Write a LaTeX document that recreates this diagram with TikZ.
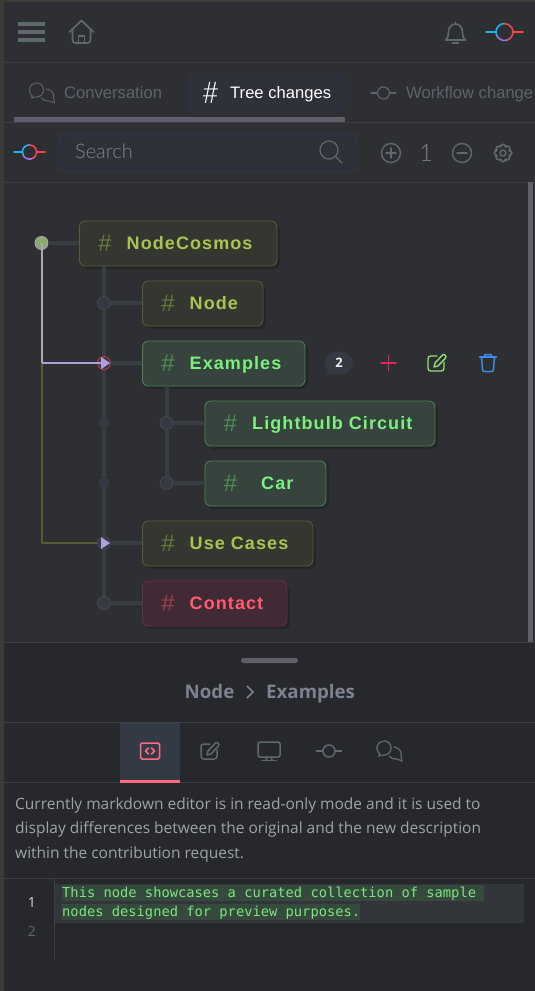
\documentclass[tikz,border=0pt]{standalone}
\usepackage{fontspec}
\setmainfont{Liberation Sans}
\newfontfamily\treefamily[LetterSpace=6]{Liberation Sans}
\newfontfamily\descfamily{Open Sans}
\newfontfamily\searchfamily{Lato Light}
\newfontfamily\monofamily{DejaVu Sans Mono}
\usetikzlibrary{arrows.meta,shadows}
\definecolor{panelTop}{HTML}{2E2F33}
\definecolor{panelLow}{HTML}{27282C}
\definecolor{edgeGray}{HTML}{3B3B38}
\definecolor{lineGray}{HTML}{3C3E44}
\definecolor{iconGray}{HTML}{5E696F}
\definecolor{tabGray}{HTML}{5C636C}
\definecolor{branchGray}{HTML}{383C43}
\definecolor{dotFill}{HTML}{343943}
\definecolor{dotLine}{HTML}{464A53}
\definecolor{oliveFill}{HTML}{33372F}
\definecolor{oliveLine}{HTML}{565F34}
\definecolor{oliveText}{HTML}{A9C452}
\definecolor{oliveHash}{HTML}{68783A}
\definecolor{greenFill}{HTML}{36443D}
\definecolor{greenLine}{HTML}{4E8457}
\definecolor{greenText}{HTML}{7BF07D}
\definecolor{greenHash}{HTML}{4D8C55}
\definecolor{redFill}{HTML}{412A35}
\definecolor{redLine}{HTML}{6B2E3E}
\definecolor{redText}{HTML}{FF5C70}
\definecolor{redHash}{HTML}{98404F}
\definecolor{flowPurple}{HTML}{B09FDC}
\definecolor{flowWhite}{HTML}{ABA9B8}
\definecolor{flowOlive}{HTML}{565C30}
\definecolor{logoBlue}{HTML}{1FB2F0}
\definecolor{logoRed}{HTML}{F0454F}
\definecolor{logoPurple}{HTML}{A06FD8}
\definecolor{descColor}{HTML}{9CA3AA}
\definecolor{monoGreen}{HTML}{7CE67E}
\definecolor{tabFill}{HTML}{2E313A}
\definecolor{barGray}{HTML}{5F5F69}
\definecolor{searchFill}{HTML}{2E313A}
\definecolor{searchGray}{HTML}{7F858C}
\definecolor{rootGreen}{HTML}{8BAA6C}
\definecolor{plusRed}{HTML}{E8265E}
\definecolor{editGreen}{HTML}{8FE26F}
\definecolor{trashBlue}{HTML}{3B8EE8}
\definecolor{crumbGray}{HTML}{7B8290}
\definecolor{activeTab}{HTML}{333A45}
\definecolor{tabRed}{HTML}{FF6B81}
\definecolor{lineBand}{HTML}{32363A}
\definecolor{diffBand}{HTML}{354A3C}
\newcommand{\hashmark}[2]{\textcolor{#1}{\raisebox{-1.5pt}{\fontsize{24}{20}\selectfont\mdseries\#}}\hspace{15pt}#2}
\newcommand{\placeicon}[3][]{\begin{scope}[shift={#2}, icon, #1]\pic {#3};\end{scope}}
\tikzset{
    treebox/.style={rectangle, rounded corners=6pt, line width=0.8pt, anchor=west, minimum height=45pt, inner xsep=19pt, inner ysep=0pt, align=left, text height=13pt, text depth=1pt, font=\treefamily\bfseries\fontsize{18}{20}\selectfont, drop shadow={shadow xshift=3pt, shadow yshift=-3pt, fill=black, opacity=0.18}},
    olivebox/.style={treebox, draw=oliveLine, fill=oliveFill, text=oliveText},
    greenbox/.style={treebox, draw=greenLine, fill=greenFill, text=greenText},
    redbox/.style={treebox, draw=redLine, fill=redFill, text=redText},
    treedot/.style={circle, draw=dotLine, fill=dotFill, line width=0.8pt, minimum size=13pt, inner sep=0pt},
    smalldot/.style={circle, fill=dotFill, minimum size=11pt, inner sep=0pt},
    branch/.style={draw=branchGray, line width=4pt},
    flow/.style={line width=2pt},
    flowtip/.style={-{Triangle[length=9pt,width=12pt]}},
    icon/.style={x=1pt, y=1pt, line width=1.3pt, line cap=round, line join=round},
    tabtext/.style={anchor=base west, inner sep=0pt, text=tabGray, font=\fontsize{16.6}{18}\selectfont},
    desctext/.style={anchor=west, inner sep=0pt, text=descColor, font=\descfamily\fontsize{15.5}{18}\selectfont},
    crumbtext/.style={anchor=base west, inner sep=0pt, text=crumbGray, font=\descfamily\bfseries\fontsize{18.7}{20}\selectfont},
    monotext/.style={anchor=west, inner sep=0pt, text=monoGreen, font=\monofamily\fontsize{13.75}{16}\selectfont},
    pics/commitcolor/.style={code={
        \draw[line width=1.6pt, color=logoBlue] (-18.5,0) -- (-8.5,0);
        \draw[line width=1.6pt, color=logoRed] (8.5,0) -- (18.5,0);
        \draw[line width=1.6pt, color=logoBlue] (0,8.5) arc[start angle=90, end angle=215, radius=8.5];
        \draw[line width=1.6pt, color=logoPurple] (215:8.5) arc[start angle=215, end angle=300, radius=8.5];
        \draw[line width=1.6pt, color=logoRed] (300:8.5) arc[start angle=300, end angle=450, radius=8.5];
    }},
    pics/commitgray/.style={code={
        \draw (-12.5,0) -- (-6,0);
        \draw (6,0) -- (12.5,0);
        \draw (0,0) circle[radius=6];
    }},
    pics/bubbles/.style={code={
        \draw (2,3) .. controls (2,8) and (-2,10) .. (-4,10) .. controls (-9,10) and (-12,7) .. (-12,3) .. controls (-12,0) and (-11,-2) .. (-9,-3) -- (-10.5,-5) -- (-5,-4) .. controls (-1,-4) and (2,-1) .. (2,3);
        \draw (5,4) .. controls (10,3) and (13,0) .. (12,-4) -- (13,-10) -- (8,-8) .. controls (4,-8) and (1,-7) .. (0,-5);
    }},
    pics/pencilbox/.style={code={
        \draw (0,7) -- (-6,7) .. controls (-8,7) and (-9,6) .. (-9,4) -- (-9,-5) .. controls (-9,-7) and (-8,-8) .. (-6,-8) -- (4,-8) .. controls (6,-8) and (7,-7) .. (7,-5) -- (7,1);
        \draw (-3,-4) -- (-2,0) -- (5.5,8) .. controls (7,9.5) and (10,7) .. (8.5,5) -- (1,-3) -- cycle;
    }},
    pics/trashcan/.style={code={
        \draw (-8.5,6) -- (8.5,6);
        \draw (-3.5,6) -- (-3,8.5) -- (3,8.5) -- (3.5,6);
        \draw (-6.5,6) -- (-5.5,-6) .. controls (-5.5,-8) and (-4.5,-8.5) .. (-3.5,-8.5) -- (3.5,-8.5) .. controls (4.5,-8.5) and (5.5,-8) .. (5.5,-6) -- (6.5,6);
    }},
    pics/home/.style={code={
        \draw (-12,0) -- (0,11.5) -- (12,0);
        \draw (-9,3) -- (-9,-8) .. controls (-9,-10) and (-8,-11) .. (-6,-11) -- (6,-11) .. controls (8,-11) and (9,-10) .. (9,-8) -- (9,3);
        \draw (-3,-11) -- (-3,-4) -- (3,-4) -- (3,-11);
    }},
    pics/bell/.style={code={
        \draw (-10,-7) .. controls (-7,-4) and (-7,-2) .. (-7,1) .. controls (-7,6) and (-4,9) .. (0,9) .. controls (4,9) and (7,6) .. (7,1) .. controls (7,-2) and (7,-4) .. (10,-7) -- cycle;
        \draw (0,9) -- (0,11);
        \draw (-3,-10) -- (3,-10);
    }},
    pics/lens/.style={code={
        \draw (-2,2) circle[radius=9];
        \draw (4.5,-4.5) -- (11,-11);
    }},
    pics/plusring/.style={code={
        \draw (0,0) circle[radius=9.5];
        \draw (-5,0) -- (5,0);
        \draw (0,-5) -- (0,5);
    }},
    pics/plainplus/.style={code={
        \draw (-7.5,0) -- (7.5,0);
        \draw (0,-7.5) -- (0,7.5);
    }},
    pics/minusring/.style={code={
        \draw (0,0) circle[radius=9.5];
        \draw (-5,0) -- (5,0);
    }},
    pics/cogwheel/.style={code={
        \draw (0,0) circle[radius=3];
        \draw[rounded corners=1.5pt] (-12:9) \foreach \a in {0,45,...,315} {-- (\a-12:9) -- (\a+12:9) -- (\a+15:6.8) -- (\a+30:6.8)} -- cycle;
    }},
    pics/codebox/.style={code={
        \draw[rounded corners=1.5pt] (-9.5,-8) rectangle (9.5,8);
        \draw[line width=1.5pt] (-1.5,3) -- (-4.5,0) -- (-1.5,-3);
        \draw[line width=1.5pt] (1.5,3) -- (4.5,0) -- (1.5,-3);
    }},
    pics/monitor/.style={code={
        \draw[rounded corners=2pt] (-11,-6) rectangle (11,9);
        \draw (-2,-6) -- (-3,-9);
        \draw (2,-6) -- (3,-9);
        \draw (-7,-9.5) -- (7,-9.5);
    }}
}
\begin{document}
\begin{tikzpicture}[x=1pt, y=-1pt]
    \useasboundingbox (0,0) rectangle (535,991);
    \fill[edgeGray] (0,0) rectangle (535,991);
    \fill[panelTop] (4,2) rectangle (535,642);
    \fill[panelLow] (4,642) rectangle (535,991);
    \draw[lineGray] (4,62.5) -- (535,62.5);
    \draw[lineGray] (4,122.5) -- (535,122.5);
    \draw[lineGray] (4,182.5) -- (535,182.5);
    \draw[lineGray] (4,642.5) -- (535,642.5);
    \draw[lineGray] (4,722.5) -- (535,722.5);
    \draw[lineGray] (4,782.5) -- (535,782.5);
    \draw[lineGray] (4,878.5) -- (535,878.5);

    % top bar
    \foreach \y in {24,32,40} {
        \draw[iconGray, line width=3.4pt] (18,\y) -- (45,\y);
    }
    \placeicon[color=iconGray, line width=1.7pt]{(81.5,32)}{home}
    \placeicon[color=iconGray, line width=1.6pt]{(455.5,33)}{bell}
    \placeicon{(504.5,32)}{commitcolor}

    % tabs
    \fill[tabFill, rounded corners=6pt] (187,73) rectangle (346,113);
    \fill[barGray] (14,117) rectangle (345,122);
    \placeicon[color=tabGray, line width=1pt]{(41.5,93)}{bubbles}
    \node[tabtext] (tabconv) at (64,98.5) {Conversation};
    \node[anchor=center, inner sep=0pt, text=white, font=\searchfamily\fontsize{30}{30}\selectfont] (tabhash) at (210.5,93) {\#};
    \node[tabtext, text=white] (tabtree) at (230,98.5) {Tree changes};
    \placeicon[color=tabGray, line width=1.2pt]{(383.5,93)}{commitgray}
    \node[tabtext] (tabflow) at (406,98.5) {Workflow change};

    % search row
    \placeicon[x=0.84pt, y=0.84pt]{(29.5,152)}{commitcolor}
    \fill[searchFill, draw=lineGray, rounded corners=5pt] (58,133.5) rectangle (358,172.5);
    \node[anchor=west, inner sep=0pt, text=searchGray, font=\searchfamily\fontsize{20}{22}\selectfont] (searchtext) at (75,151.5) {Search};
    \placeicon[color=iconGray, line width=1.2pt]{(331,152)}{lens}
    \placeicon[color=iconGray, line width=1.4pt]{(391,153)}{plusring}
    \node[inner sep=0pt, text=iconGray!85!white, font=\searchfamily\fontsize{24}{24}\selectfont] (zoomlevel) at (426,152.5) {1};
    \placeicon[color=iconGray, line width=1.4pt]{(462,153)}{minusring}
    \placeicon[color=iconGray, line width=1.4pt]{(503,153)}{cogwheel}

    % tree
    \fill[barGray] (528,182) rectangle (533,642);
    \node[olivebox, text width=159.5pt] (cosmos) at (79,243.5) {\hashmark{oliveHash}{NodeCosmos}};
    \node[olivebox, text width=82.5pt] (nodebox) at (142,303.5) {\hashmark{oliveHash}{Node}};
    \node[greenbox, text width=124.5pt] (examples) at (142,363.5) {\hashmark{greenHash}{Examples}};
    \node[greenbox, text width=192pt] (lightbulb) at (204.5,423.5) {\hashmark{greenHash}{Lightbulb Circuit}};
    \node[greenbox, text width=83pt] (car) at (204.5,483.5) {\hashmark{greenHash}{\hspace{9pt}Car}};
    \node[olivebox, text width=132.5pt] (usecases) at (142,543.5) {\hashmark{oliveHash}{Use Cases}};
    \node[redbox, text width=106.5pt] (contact) at (142,603.5) {\hashmark{redHash}{Contact}};

    \node[circle, draw=flowWhite!80!gray, fill=rootGreen, line width=1pt, minimum size=13pt, inner sep=0pt] (root) at (41.5,243) {};
    \node[treedot] (dotnode) at (104,303) {};
    \node[treedot, draw=logoRed!85!black] (dotexamples) at (104,363) {};
    \node[smalldot] (dotgap1) at (104,423) {};
    \node[smalldot] (dotgap2) at (104,483) {};
    \node[treedot] (dotcases) at (104,543) {};
    \node[treedot] (dotcontact) at (104,603) {};
    \node[treedot] (dotlight) at (166.5,423) {};
    \node[treedot] (dotcar) at (166.5,483) {};
    \coordinate (bendfirst) at (41.5,363);
    \coordinate (bendcases) at (41.5,543);

    \draw[branch] (root) -- (cosmos);
    \draw[branch] (dotnode |- cosmos.south) -- (dotnode) -- (dotexamples) -- (dotgap1) -- (dotgap2) -- (dotcases) -- (dotcontact);
    \draw[branch] (dotnode) -- (nodebox);
    \draw[branch] (dotexamples) -- (examples);
    \draw[branch] (dotcases) -- (usecases);
    \draw[branch] (dotcontact) -- (contact);
    \draw[branch] (dotlight |- examples.south) -- (dotlight) -- (dotcar);
    \draw[branch] (dotlight) -- (lightbulb);
    \draw[branch] (dotcar) -- (car);

    \draw[flow, flowOlive] (bendfirst) -- (bendcases);
    \draw[flow, flowOlive] (bendcases) -- (dotcases.west);
    \draw[flow, flowWhite] (root.center) -- (bendfirst);
    \draw[flow, flowPurple, flowtip] (bendfirst) -- ([xshift=6pt]dotexamples.center);
    \fill[flowPurple] ([xshift=-3pt,yshift=6pt]dotcases.center) -- ([xshift=6pt]dotcases.center) -- ([xshift=-3pt,yshift=-6pt]dotcases.center) -- cycle;

    % actions
    \fill[dotFill] (339,363) ellipse[x radius=14, y radius=11.5];
    \fill[dotFill] (329,370) -- (325,375.5) -- (336,373) -- cycle;
    \node[inner sep=0pt, text=white!88!gray, font=\descfamily\bfseries\fontsize{13}{14}\selectfont] (badge) at (339,363) {2};
    \placeicon[color=plusRed, line width=1.5pt]{(388.5,363)}{plainplus}
    \placeicon[color=editGreen, line width=1.4pt]{(437,363)}{pencilbox}
    \placeicon[color=trashBlue, line width=1.5pt]{(488,363)}{trashcan}

    % lower panel
    \fill[barGray, rounded corners=2.5pt] (241,658) rectangle (298,663);
    \node[crumbtext] (crumbnode) at (184.5,698) {Node};
    \draw[crumbGray, line width=1.5pt] (247,686) -- (253,692) -- (247,698);
    \node[crumbtext] (crumbex) at (266,698) {Examples};
    \fill[activeTab] (120,723) rectangle (180,780);
    \fill[tabRed] (120,780) rectangle (180,783);
    \placeicon[color=tabRed, line width=1.5pt]{(150,751)}{codebox}
    \placeicon[color=iconGray, line width=1.5pt]{(210,751)}{pencilbox}
    \placeicon[color=iconGray, line width=1.5pt]{(269,751)}{monitor}
    \placeicon[color=iconGray, line width=1.5pt]{(329,751)}{commitgray}
    \placeicon[color=iconGray, line width=1.3pt]{(389,751)}{bubbles}
    \node[desctext] (descone) at (15,805) {Currently markdown editor is in read-only mode and it is used to};
    \node[desctext] (desctwo) at (15,829) {display differences between the original and the new description};
    \node[desctext] (descthree) at (15,854) {within the contribution request.};

    % editor
    \draw[lineGray] (54.5,878) -- (54.5,961);
    \fill[lineBand] (55,884) rectangle (524,923);
    \fill[diffBand] (62,884.5) rectangle (484,901);
    \fill[diffBand] (62,904) rectangle (360,920);
    \node[monotext] (lineone) at (62,894) {This node showcases a curated collection of sample};
    \node[monotext] (linetwo) at (62,913) {nodes designed for preview purposes.};
    \node[inner sep=0pt, text=white!70!gray, font=\descfamily\fontsize{14}{14}\selectfont] (numone) at (32,902) {1};
    \node[inner sep=0pt, text=iconGray, font=\descfamily\fontsize{14}{14}\selectfont] (numtwo) at (32,931) {2};
\end{tikzpicture}
\end{document}
